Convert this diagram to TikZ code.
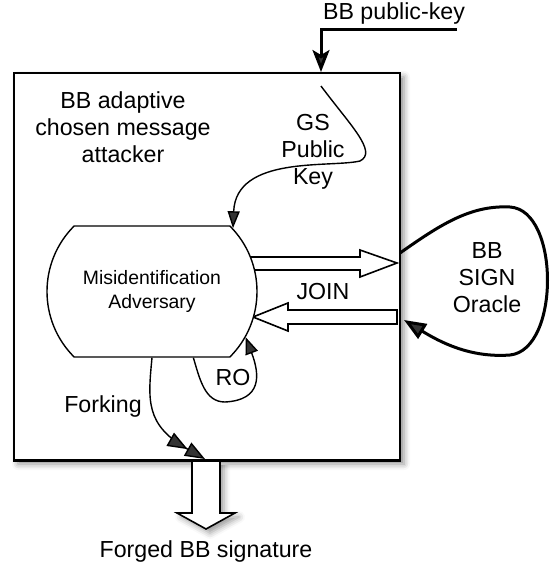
\documentclass[tikz,border=0pt]{standalone}
\usepackage{fontspec}
\setmainfont{Liberation Sans}
\usetikzlibrary{arrows.meta}
\usetikzlibrary{shapes.misc}
\usetikzlibrary{shadows.blur}
\usetikzlibrary{calc}

\begin{document}
\begin{tikzpicture}[x=0.5pt,y=-0.5pt,
    bigfont/.style={font=\fontsize{11.6pt}{13.5pt}\selectfont},
    smallfont/.style={font=\fontsize{9.7pt}{12pt}\selectfont},
    fatarrow/.style={draw,line width=0.8pt,fill=white,line join=miter},
    thinline/.style={line width=0.7pt}]
    	\useasboundingbox (0,0) rectangle (550,569);

    	% attacker box
    	\node[draw,line width=1pt,fill=white,minimum width=193pt,minimum height=193.5pt,inner sep=0pt,
    	    blur shadow={shadow xshift=2pt,shadow yshift=-2pt,shadow blur radius=3pt,shadow opacity=45}]
    	    (attacker) at (207,266.5) {};
    	\node[bigfont,align=center] (title) at (123,127) {BB adaptive\\chosen message\\attacker};

    	% output arrow
    	\draw[fatarrow,blur shadow={shadow xshift=2pt,shadow yshift=-2pt,shadow blur radius=3pt,shadow opacity=40}]
    	    (192,461) -- (192,513) -- (177,513) -- (206,529) -- (235,513) -- (220,513) -- (220,461);
    	\draw[line width=1pt] (attacker.south west) -- (attacker.south east);
    	\node[bigfont] (forged) at (206,551) {Forged BB signature};

    	% sign / join arrows
    	\draw[fatarrow] (240,257) -- (360,257) -- (360,250) -- (397,263) -- (360,277) -- (360,270) -- (240,270) -- cycle;
    	\draw[fatarrow] (397,310) -- (288,310) -- (288,303) -- (253,317) -- (288,331) -- (288,324) -- (397,324) -- cycle;
    	\node[bigfont] (join) at (323,292) {JOIN};

    	% adversary
    	\node[draw,thinline,fill=white,rounded rectangle,rounded rectangle arc length=90,
    	    minimum width=105pt,minimum height=65.5pt,inner sep=0pt,smallfont,align=center]
    	    (adv) at (152,291.5) {Misidentification\\Adversary};

    	% public keys
    	\node[bigfont] (bbpk) at (394,13) {BB public-key};
    	\coordinate (pkstart) at (457,29);
    	\coordinate (pkend) at (321,72);
    	\draw[line width=1.5pt,-{Stealth[length=11pt,width=8.5pt,inset=2.5pt]}] (pkstart) -| (pkend);

    	\node[bigfont,align=center] (gspk) at (313,152) {GS\\Public\\Key};
    	\coordinate (gsstart) at (321,86);
    	\draw[thinline,-{Triangle[length=8.5pt,width=6pt]}] (gsstart) .. controls (350,125) and (378,152) .. (360,161)
    	    .. controls (330,168) and (236,155) .. (adv.38);

    	% oracle
    	\node[bigfont,align=center] (oracle) at (487,278) {BB\\SIGN\\Oracle};
    	\coordinate (sigout) at (400,253);
    	\coordinate (sigin) at (404,320);
    	\draw[line width=1.5pt,-{Triangle[length=11pt,width=8.5pt]}] (sigout) .. controls (440,225) and (470,205) .. (510,207)
    	    .. controls (560,210) and (560,350) .. (510,355)
    	    .. controls (470,358) and (440,342) .. (sigin);

    	% random oracle
    	\node[bigfont] (ro) at (233,378) {RO};
    	\draw[thinline,-{Triangle[length=8.5pt,width=6.5pt]}] (adv.-58) .. controls (200,380) and (205,402) .. (225,402)
    	    .. controls (262,400) and (260,375) .. (adv.-26);

    	% forking
    	\node[bigfont] (fork) at (103,406) {Forking};
    	\coordinate (forkend) at (205,459);
    	\draw[thinline,-{Triangle[length=10pt,width=7.5pt]Triangle[length=10pt,width=7.5pt]}] (adv.south)
    	    .. controls (148,400) and (145,425) .. (forkend);
\end{tikzpicture}
\end{document}
